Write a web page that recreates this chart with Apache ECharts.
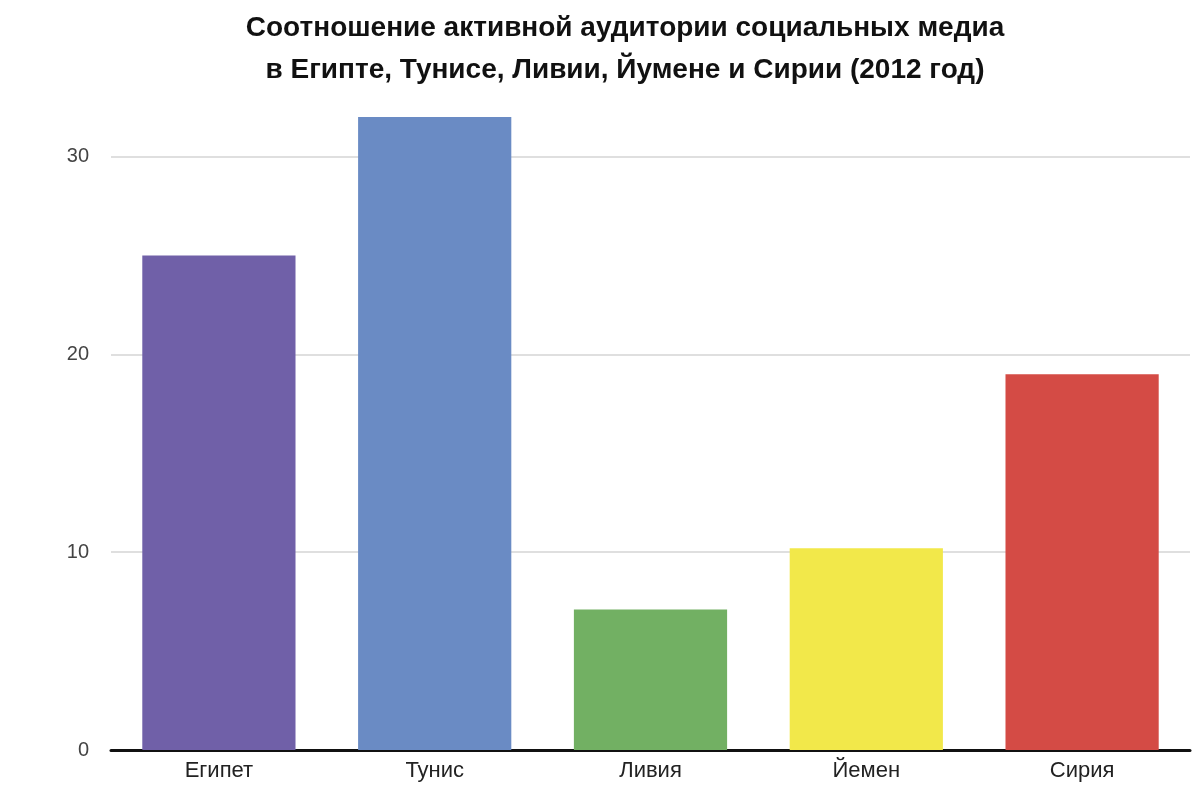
<!DOCTYPE html>
<html><head><meta charset="utf-8">
<script src="https://cdn.jsdelivr.net/npm/echarts@6/dist/echarts.min.js"></script>
<style>html,body{margin:0;padding:0;background:#fff}#c{width:1200px;height:791px}</style>
</head><body><div id="c"></div>
<script>
const categories = ['Египет','Тунис','Ливия','Йемен','Сирия'];
const values = [25, 32, 7.1, 10.2, 19];
const colors = ['#7060a8','#6a8bc4','#72b063','#f2e84a','#d44b45'];
const yTicks = [0, 10, 20, 30];
const chart = echarts.init(document.getElementById('c'));
chart.setOption({
  backgroundColor:'#fff',
  title:{text:'Соотношение активной аудитории социальных медиа\nв Египте, Тунисе, Ливии, Йумене и Сирии (2012 год)',
    left:620, textAlign:'center', top:2,
    textStyle:{fontFamily:'Liberation Sans',fontWeight:'bold',fontSize:28,lineHeight:42,color:'#111'}},
  grid:{left:111,right:10,top:113,bottom:41},
  xAxis:{type:'category',data:categories,
    axisLine:{lineStyle:{color:'#111',width:3}},axisTick:{show:false},
    axisLabel:{fontFamily:'Liberation Sans',fontSize:22,color:'#222',margin:10}},
  yAxis:{type:'value',min:0,max:32.2,interval:10,
    axisLine:{show:false},axisTick:{show:false},
    axisLabel:{fontFamily:'Liberation Sans',fontSize:20,color:'#444',margin:22,
      formatter:v=>yTicks.includes(v)?String(v):''},
    splitLine:{show:false}},
  series:[{type:'bar',barWidth:'71%',z:3,
    data:values.map((v,i)=>({value:v,itemStyle:{color:colors[i]}})),
    markLine:{silent:true,symbol:'none',z:1,label:{show:false},
      lineStyle:{color:'#d4d4d4',width:1.5,type:'solid'},
      data:yTicks.filter(t=>t>0).map(t=>({yAxis:t}))}}]
});
</script></body></html>
